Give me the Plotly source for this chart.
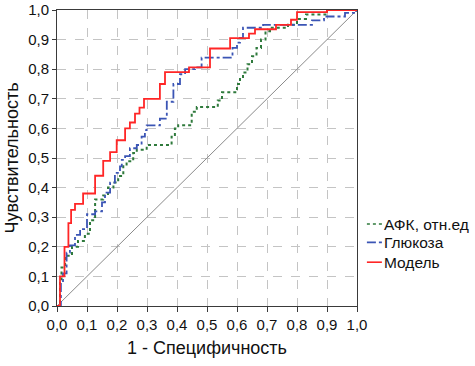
import plotly.graph_objects as go

# Step corner points (line_shape 'hv'): horizontal to x, then up to y
model_x = [0, 0.010, 0.025, 0.038, 0.047, 0.060, 0.087, 0.127, 0.154, 0.177, 0.199, 0.227, 0.243, 0.260, 0.275, 0.290, 0.343, 0.360, 0.440, 0.510, 0.577, 0.640, 0.660, 0.730, 0.780, 0.800, 0.900, 1.0]
model_y = [0, 0.100, 0.200, 0.280, 0.325, 0.345, 0.380, 0.440, 0.490, 0.520, 0.560, 0.600, 0.620, 0.650, 0.670, 0.700, 0.750, 0.790, 0.806, 0.870, 0.905, 0.920, 0.935, 0.950, 0.967, 0.993, 1.000, 1.0]

gluc_x = [0, 0.013, 0.020, 0.032, 0.043, 0.060, 0.077, 0.100, 0.127, 0.150, 0.160, 0.177, 0.193, 0.210, 0.216, 0.227, 0.243, 0.266, 0.282, 0.293, 0.299, 0.343, 0.366, 0.388, 0.410, 0.427, 0.460, 0.482, 0.585, 0.600, 0.610, 0.620, 0.687, 0.850, 0.890, 0.960, 1.0, 1.0]
gluc_y = [0, 0.080, 0.110, 0.180, 0.205, 0.240, 0.260, 0.310, 0.320, 0.350, 0.383, 0.417, 0.450, 0.472, 0.494, 0.506, 0.533, 0.544, 0.572, 0.594, 0.610, 0.633, 0.690, 0.750, 0.783, 0.800, 0.806, 0.839, 0.872, 0.890, 0.906, 0.940, 0.950, 0.965, 0.978, 0.990, 0.990, 1.0]

afk_x = [0, 0.010, 0.015, 0.027, 0.050, 0.070, 0.093, 0.110, 0.127, 0.154, 0.170, 0.188, 0.204, 0.221, 0.232, 0.254, 0.266, 0.299, 0.382, 0.393, 0.404, 0.449, 0.466, 0.536, 0.550, 0.600, 0.610, 0.620, 0.635, 0.650, 0.665, 0.680, 0.695, 0.710, 0.770, 0.800, 0.830, 0.900, 1.0]
afk_y = [0, 0.090, 0.130, 0.170, 0.200, 0.220, 0.244, 0.290, 0.360, 0.373, 0.400, 0.417, 0.439, 0.472, 0.489, 0.517, 0.528, 0.544, 0.572, 0.600, 0.611, 0.656, 0.672, 0.694, 0.722, 0.750, 0.767, 0.789, 0.817, 0.844, 0.872, 0.900, 0.928, 0.940, 0.950, 0.970, 0.985, 1.000, 1.0]

diag_x = [0, 1]
diag_y = [0, 1]

tick_vals = [i / 10 for i in range(11)]
tick_text = ["0,0", "0,1", "0,2", "0,3", "0,4", "0,5", "0,6", "0,7", "0,8", "0,9", "1,0"]

series_names = ["АФК, отн.ед", "Глюкоза", "Модель"]
series_colors = ["#2f7a3c", "#3b55b5", "#ff2626"]
series_dash = ["dot", "dashdot", "solid"]

FONT = "Liberation Sans, Arial, sans-serif"

fig = go.Figure()
fig.add_trace(go.Scatter(x=diag_x, y=diag_y, mode="lines",
                         line=dict(color="#8a8a8a", width=1), showlegend=False, hoverinfo="skip"))
for xs, ys, name, col, dash, w in [
    (afk_x, afk_y, series_names[0], series_colors[0], series_dash[0], 2),
    (gluc_x, gluc_y, series_names[1], series_colors[1], series_dash[1], 1.8),
    (model_x, model_y, series_names[2], series_colors[2], series_dash[2], 1.8),
]:
    fig.add_trace(go.Scatter(x=xs, y=ys, mode="lines", name=name, line_shape="hv",
                             line=dict(color=col, width=w, dash=dash), showlegend=False))

# Legend drawn as keys + labels at the right of the plot
leg_y = [0.277, 0.215, 0.148]
for i in range(3):
    fig.add_shape(type="line", xref="paper", yref="paper",
                  x0=1.033, x1=1.083, y0=leg_y[i], y1=leg_y[i],
                  line=dict(color=series_colors[i], width=1.6, dash=series_dash[i]))
    fig.add_annotation(xref="paper", yref="paper", x=1.083, y=leg_y[i],
                       text=series_names[i], showarrow=False, xanchor="left", yanchor="middle",
                       font=dict(family=FONT, size=15.5, color="#111"))

axis_common = dict(
    range=[0, 1], tickvals=tick_vals, ticktext=tick_text,
    showgrid=True, gridcolor="#c4c4c4", griddash="dash", gridwidth=1,
    showline=True, linecolor="#3a3a3a", linewidth=1, mirror=True,
    ticks="outside", tickcolor="#3a3a3a", zeroline=False, automargin=False,
    ticklabeloverflow="allow",
    tickfont=dict(family=FONT, size=15, color="#111"),
)
fig.update_xaxes(**axis_common, ticklen=5,
                 title=dict(text="1 - Специфичность", font=dict(family=FONT, size=18, color="#111"), standoff=9))
fig.update_yaxes(**axis_common, ticklen=4,
                 title=dict(text="Чувствительность", font=dict(family=FONT, size=18, color="#111"), standoff=4))

fig.update_layout(
    width=475, height=366,
    margin=dict(l=57, r=118, t=10, b=60),
    plot_bgcolor="white", paper_bgcolor="white",
    font=dict(family=FONT),
)
fig.write_html("out.html", config={"displayModeBar": False},
               post_script="document.body.style.margin='0';")
